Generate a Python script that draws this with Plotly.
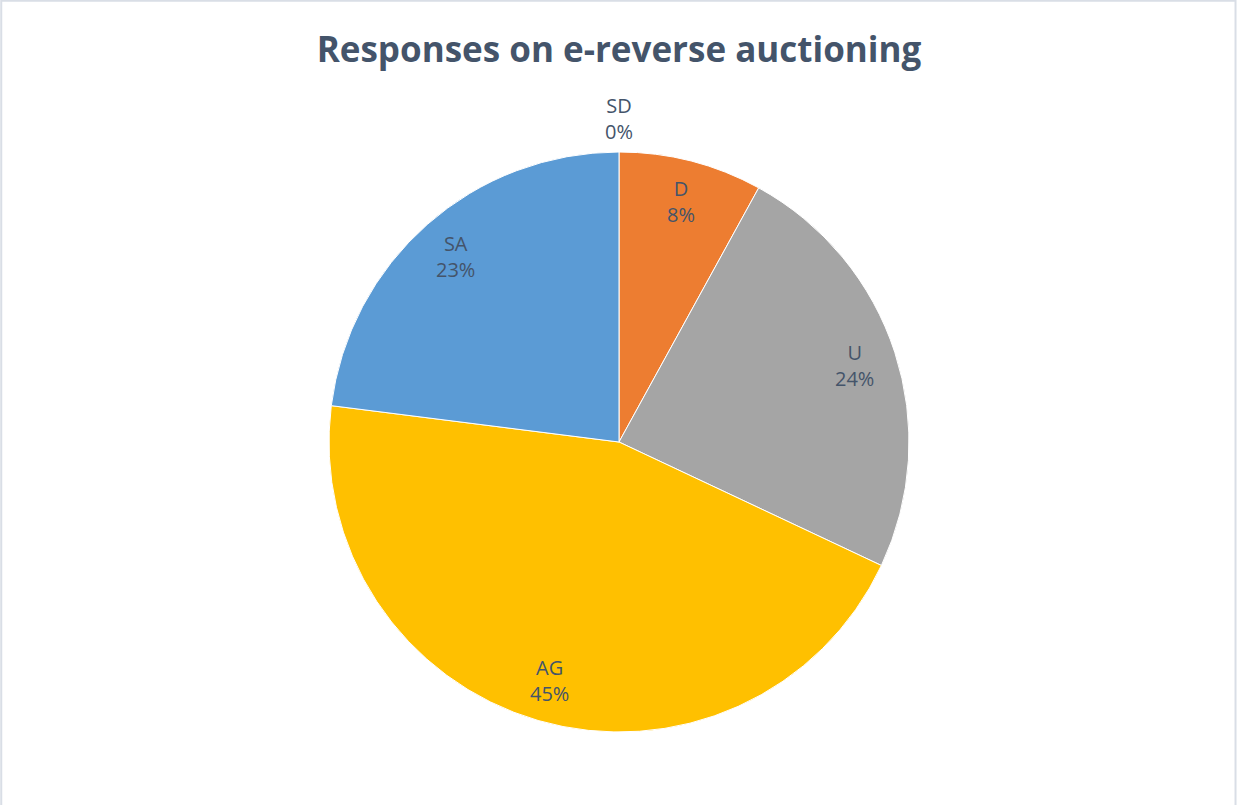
import math
import plotly.graph_objects as go

# Survey responses (share of respondents, %)
categories = ["SD", "D", "U", "AG", "SA"]
shares = [0, 8, 24, 45, 23]
slice_colors = ["#4472C4", "#ED7D31", "#A5A5A5", "#FFC000", "#5B9BD5"]

W, H = 1238, 805
cx, cy, r = 619, 442, 290  # pie centre and radius in pixels

font_family = "Open Sans, Noto Sans, sans-serif"
text_color = "#44546A"

fig = go.Figure(
    go.Pie(
        labels=categories,
        values=shares,
        sort=False,
        direction="clockwise",
        rotation=0,
        marker=dict(colors=slice_colors, line=dict(color="white", width=1)),
        textinfo="none",
        showlegend=False,
        hoverinfo="label+percent",
        domain=dict(
            x=[(cx - r) / W, (cx + r) / W],
            y=[(H - cy - r) / H, (H - cy + r) / H],
        ),
    )
)

# Data labels: placed near the rim at each slice's mid-angle (clockwise from 12 o'clock);
# empty slices sit just outside the pie.
total = sum(shares)
annotations = []
cum = 0.0
for cat, val in zip(categories, shares):
    frac = val / total
    mid = (cum + frac / 2) * 2 * math.pi
    cum += frac
    rad = 0.855 * r if val > 0 else 1.115 * r
    px = cx + rad * math.sin(mid)
    py = cy - rad * math.cos(mid)
    annotations.append(
        dict(
            x=px / W, y=1 - py / H, xref="paper", yref="paper",
            text=f"{cat}<br>{round(frac * 100):.0f}%",
            showarrow=False, xanchor="center", yanchor="middle",
            font=dict(family=font_family, size=20, color=text_color),
        )
    )

fig.update_layout(
    width=W,
    height=H,
    margin=dict(l=0, r=0, t=0, b=0),
    paper_bgcolor="white",
    plot_bgcolor="white",
    title=dict(
        text="<b>Responses on e-reverse auctioning</b>",
        x=0.5,
        xanchor="center",
        y=1 - 50 / H,
        yanchor="middle",
        font=dict(family=font_family, size=35, color=text_color),
    ),
    annotations=annotations,
    shapes=[
        dict(
            type="rect", xref="paper", yref="paper",
            x0=0.001, x1=0.998, y0=-0.01, y1=0.999,
            line=dict(color="#D9DEE6", width=2), fillcolor="rgba(0,0,0,0)",
        )
    ],
)

fig.write_html("out.html")
